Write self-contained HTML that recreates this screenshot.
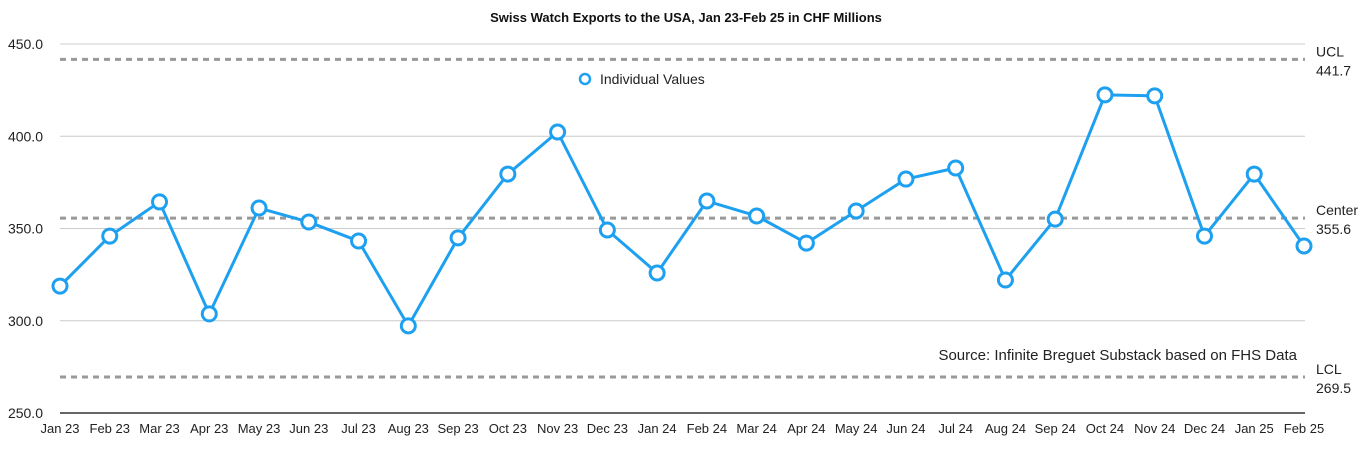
<!DOCTYPE html>
<html><head><meta charset="utf-8"><style>
body{margin:0;background:#fff;font-family:"Liberation Sans",sans-serif;}
svg text{font-family:"Liberation Sans",sans-serif;}
</style></head><body>
<svg id="c" width="1372" height="444"></svg>
<script>
const categories=["Jan 23","Feb 23","Mar 23","Apr 23","May 23","Jun 23","Jul 23","Aug 23","Sep 23","Oct 23","Nov 23","Dec 23","Jan 24","Feb 24","Mar 24","Apr 24","May 24","Jun 24","Jul 24","Aug 24","Sep 24","Oct 24","Nov 24","Dec 24","Jan 25","Feb 25"];
const values=[318.8,345.9,364.4,303.7,361.1,353.5,343.2,297.2,344.9,379.5,402.3,349.2,325.9,364.9,356.8,342.1,359.5,376.8,382.8,322.1,355.1,422.4,421.9,345.9,379.5,340.5];
const yTicks=[250,300,350,400,450];
const controlLimits=[{label:"UCL",v:441.7},{label:"Center",v:355.6},{label:"LCL",v:269.5}];
const NS="http://www.w3.org/2000/svg";
const svg=document.getElementById('c');
const y=v=>413-(v-250)*(369/200);
const x=i=>60+i*(1244/25);
function mk(t,a,txt){const e=document.createElementNS(NS,t);for(const k in a)e.setAttribute(k,a[k]);if(txt!=null)e.textContent=txt;svg.appendChild(e);return e;}
let t=mk('text',{x:686,y:22,'text-anchor':'middle','font-size':13,'font-weight':'bold',fill:'#111'},'Swiss Watch Exports to the USA, Jan 23-Feb 25 in CHF Millions');


yTicks.forEach(v=>{
  if(v>250){const g=mk('line',{x1:60,x2:1305,y1:y(v),y2:y(v),stroke:'#ccc','stroke-width':1});
  
  }
  const l=mk('text',{x:43,y:y(v)+5,'text-anchor':'end','font-size':14,fill:'#222'},v.toFixed(1));
  
  
});
const ax=mk('line',{x1:60,x2:1305,y1:413,y2:413,stroke:'#333','stroke-width':1.5});


controlLimits.forEach(c=>{
  const l=mk('line',{x1:60,x2:1305,y1:y(c.v),y2:y(c.v),stroke:'#999','stroke-width':3,'stroke-dasharray':'6,5'});
  
  
  const a=mk('text',{x:1316,y:y(c.v)-3,'font-size':14,fill:'#222'},c.label);
  
  
  const b=mk('text',{x:1316,y:y(c.v)+16,'font-size':14,fill:'#222'},c.v.toFixed(1));
  
  
});
categories.forEach((c,i)=>{
  const l=mk('text',{x:x(i),y:433,'text-anchor':'middle','font-size':13,fill:'#222'},c);
  
  
});
const p=mk('polyline',{points:values.map((v,i)=>x(i)+','+y(v)).join(' '),fill:'none',stroke:'#1ea0f0','stroke-width':3,'stroke-linejoin':'round'});


values.forEach((v,i)=>{
  const d=mk('circle',{cx:x(i),cy:y(v),r:7,fill:'#fff',stroke:'#1ea0f0','stroke-width':3});
  
  
});
const lg=mk('circle',{cx:585,cy:79,r:5,fill:'#fff',stroke:'#1ea0f0','stroke-width':2.5});


const lt=mk('text',{x:600,y:84,'font-size':14,fill:'#222'},'Individual Values');


const s=mk('text',{x:1297,y:360,'text-anchor':'end','font-size':15,fill:'#222'},'Source: Infinite Breguet Substack based on FHS Data');


</script>
</body></html>
